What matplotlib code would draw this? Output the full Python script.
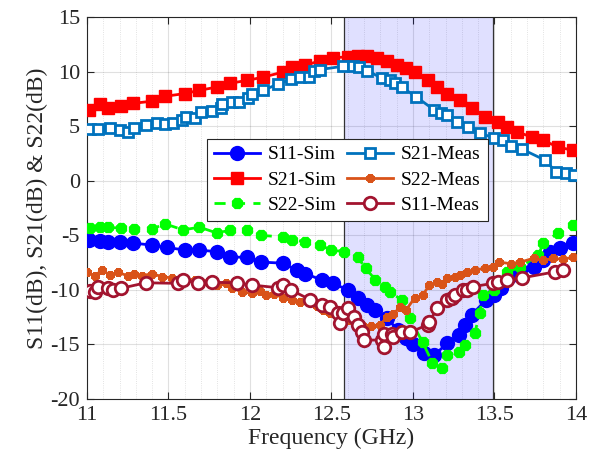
import matplotlib
matplotlib.use('Agg')
import matplotlib.pyplot as plt
from matplotlib.ticker import MultipleLocator

plt.rcParams['font.family'] = ['Liberation Serif', 'DejaVu Serif']
plt.rcParams['axes.unicode_minus'] = False
plt.rcParams['mathtext.fontset'] = 'stix'

# S21 simulated
f_s21_sim = [11.01, 11.08, 11.13, 11.21, 11.28, 11.40, 11.48, 11.60, 11.69, 11.80, 11.88, 11.98,
             12.08, 12.20, 12.26, 12.34, 12.43, 12.51, 12.60, 12.66, 12.72, 12.78, 12.84, 12.90,
             12.96, 13.01, 13.09, 13.15, 13.21, 13.29, 13.36, 13.44, 13.52, 13.58, 13.64, 13.73,
             13.80, 13.89, 13.98]
s21_sim = [6.5, 7.0, 6.65, 6.85, 7.1, 7.3, 7.75, 8.0, 8.3, 8.6, 8.95, 9.2,
           9.5, 9.96, 10.4, 10.6, 11.0, 11.3, 11.35, 11.4, 11.45, 11.3, 11.0, 10.6,
           10.3, 9.96, 9.2, 8.6, 8.0, 7.4, 6.65, 5.85, 5.4, 4.9, 4.5, 4.0,
           3.7, 3.1, 2.8]

# S21 measured
f_s21_meas = [11.02, 11.07, 11.14, 11.20, 11.25, 11.29, 11.36, 11.43, 11.48, 11.53, 11.58, 11.61,
              11.66, 11.70, 11.77, 11.82, 11.83, 11.89, 11.93, 11.99, 12.01, 12.08, 12.17, 12.25,
              12.31, 12.36, 12.39, 12.43, 12.57, 12.63, 12.67, 12.72, 12.81, 12.86, 12.89, 12.93,
              13.02, 13.13, 13.17, 13.21, 13.27, 13.34, 13.41, 13.50, 13.55, 13.60, 13.67, 13.81,
              13.88, 13.94, 13.99]
s21_meas = [4.74, 4.74, 4.8, 4.65, 4.5, 4.8, 5.1, 5.3, 5.2, 5.3, 5.6, 5.85,
            5.75, 6.3, 6.4, 6.65, 7.0, 7.2, 7.2, 7.6, 8.0, 8.3, 8.85, 9.3,
            9.5, 9.5, 10.1, 10.2, 10.5, 10.5, 10.4, 10.1, 9.4, 9.2, 8.95, 8.6,
            7.7, 6.5, 6.2, 6.0, 5.4, 4.9, 4.4, 3.9, 3.7, 3.2, 2.9, 1.9,
            0.8, 0.7, 0.5]

# S11 simulated
f_s11_sim = [11.01, 11.08, 11.13, 11.20, 11.28, 11.40, 11.49, 11.60, 11.69, 11.80, 11.88, 11.98,
             12.07, 12.20, 12.29, 12.34, 12.44, 12.51, 12.60, 12.66, 12.72, 12.77, 12.84, 12.91,
             12.96, 13.00, 13.07, 13.13, 13.21, 13.28, 13.32, 13.36, 13.45, 13.50, 13.54, 13.59,
             13.66, 13.74, 13.80, 13.84, 13.90, 13.98]
s11_sim = [-5.4, -5.5, -5.6, -5.6, -5.7, -5.9, -6.1, -6.35, -6.35, -6.5, -7.0, -7.0,
           -7.45, -7.55, -8.2, -8.5, -9.1, -9.4, -10.0, -10.7, -11.4, -11.85, -12.6, -13.7,
           -14.4, -15.0, -15.8, -16.0, -14.9, -14.1, -13.2, -12.3, -10.9, -10.5, -9.8, -8.8,
           -8.2, -7.9, -7.3, -6.5, -6.2, -5.7]

# S22 simulated
f_s22_sim = [11.02, 11.08, 11.13, 11.21, 11.29, 11.40, 11.48, 11.59, 11.69, 11.80, 11.88, 11.98,
             12.07, 12.20, 12.26, 12.34, 12.43, 12.50, 12.58, 12.66, 12.71, 12.77, 12.83, 12.86,
             12.93, 12.98, 13.06, 13.12, 13.18, 13.21, 13.28, 13.32, 13.38, 13.41, 13.43, 13.50,
             13.58, 13.66, 13.77, 13.80, 13.89, 13.98]
s22_sim = [-4.35, -4.25, -4.25, -4.35, -4.4, -4.4, -3.95, -4.5, -4.25, -4.8, -4.5, -4.5,
           -5.0, -5.15, -5.4, -5.6, -5.9, -6.35, -6.5, -7.0, -8.0, -9.1, -9.7, -10.2,
           -10.9, -12.6, -14.8, -16.7, -17.2, -16.0, -15.7, -15.05, -13.95, -12.1, -10.5, -10.0,
           -8.35, -7.9, -6.8, -5.7, -4.8, -4.05]

# S22 measured
f_s22_meas = [11.00, 11.05, 11.09, 11.14, 11.19, 11.25, 11.29, 11.34, 11.40, 11.46, 11.52, 11.59,
              11.66, 11.74, 11.80, 11.85, 11.89, 11.95, 12.01, 12.06, 12.10, 12.15, 12.20, 12.26,
              12.31, 12.36, 12.41, 12.45, 12.49, 12.52, 12.55, 12.58, 12.61, 12.66, 12.69, 12.74,
              12.80, 12.84, 12.88, 12.92, 12.96, 13.01, 13.06, 13.10, 13.15, 13.18, 13.21,
              13.26, 13.29, 13.33, 13.38, 13.44, 13.49, 13.53, 13.60, 13.66, 13.74, 13.80, 13.86,
              13.92, 13.98]
s22_meas = [-8.4, -8.7, -8.2, -8.6, -8.4, -8.7, -8.5, -8.7, -8.5, -8.8, -8.9, -9.2,
            -9.1, -9.3, -9.55, -9.4, -9.8, -10.2, -10.3, -10.1, -10.5, -10.4, -10.7, -10.9,
            -11.1, -11.0, -11.5, -11.8, -12.1, -12.0, -12.5, -12.4, -12.8, -13.0, -13.2, -13.3,
            -13.2, -12.5, -12.2, -11.6, -11.8, -10.75, -10.5, -9.55, -9.3, -9.5, -8.9,
            -8.8, -8.6, -8.35, -8.2, -8.0, -7.9, -7.45, -7.6, -7.45, -7.1, -7.3, -7.1,
            -7.2, -7.0]

# S11 measured
f_s11_meas = [11.02, 11.05, 11.07, 11.13, 11.16, 11.21, 11.36, 11.56, 11.59, 11.68, 11.77, 11.92,
              12.01, 12.17, 12.20, 12.25, 12.37, 12.44, 12.49, 12.54, 12.55, 12.57, 12.60, 12.64,
              12.66, 12.69, 12.70, 12.81, 12.82, 12.82, 12.87, 12.88, 12.93, 12.98, 13.09, 13.10,
              13.15, 13.21, 13.24, 13.26, 13.31, 13.33, 13.37, 13.49, 13.52, 13.58, 13.67, 13.87,
              13.92]
s11_meas = [-10.1, -10.2, -9.7, -9.85, -10.0, -9.85, -9.35, -9.4, -9.1, -9.35, -9.3, -9.35,
            -9.55, -9.8, -9.55, -10.0, -10.9, -11.4, -11.6, -12.1, -13.0, -12.1, -11.7, -12.5,
            -13.2, -13.9, -14.6, -14.6, -15.2, -14.0, -14.0, -14.3, -13.9, -13.9, -13.2, -12.9,
            -11.7, -10.9, -10.75, -10.5, -10.0, -10.0, -9.7, -9.4, -9.3, -9.1, -8.9, -8.35,
            -8.2]

band = (12.58, 13.49)

fig, ax = plt.subplots(figsize=(5.98, 4.65), dpi=100)
fig.subplots_adjust(left=0.1455, right=0.963, top=0.963, bottom=0.142)

ax.axvspan(band[0], band[1], facecolor=(0.0, 0.0, 1.0), alpha=0.12, zorder=1)
ax.axvline(band[0], color='#333333', lw=0.9, zorder=1.5)
ax.axvline(band[1], color='#333333', lw=0.9, zorder=1.5)

lw = 2.0
ax.plot(f_s11_sim, s11_sim, '-o', color='blue', lw=lw, ms=10, label='S11-Sim', zorder=3)
ax.plot(f_s21_sim, s21_sim, '-s', color='red', lw=lw, ms=9, label='S21-Sim', zorder=3)
ax.plot(f_s22_sim, s22_sim, '--', color='#00ff00', lw=lw, marker=(8, 2, 0), ms=8, mew=3.5,
        dashes=(4, 3), label='S22-Sim', zorder=3)
ax.plot(f_s21_meas, s21_meas, '-s', color='#0072BD', lw=lw, ms=7, mfc='white', mew=2,
        label='S21-Meas', zorder=3)
ax.plot(f_s22_meas, s22_meas, '-', color='#D95319', lw=lw, marker=(8, 2, 0), ms=6, mew=2.5,
        label='S22-Meas', zorder=3)
ax.plot(f_s11_meas, s11_meas, '-o', color='#A2142F', lw=lw, ms=9, mfc='white', mew=2,
        label='S11-Meas', zorder=3)

ax.set_xlim(11, 14)
ax.set_ylim(-20, 15)
ax.xaxis.set_minor_locator(MultipleLocator(0.1))
ax.yaxis.set_major_locator(MultipleLocator(5))
ax.set_xticks([11, 11.5, 12, 12.5, 13, 13.5, 14])
ax.set_xticklabels(['11', '11.5', '12', '12.5', '13', '13.5', '14'])

ax.grid(which='major', color='#000000', alpha=0.12, lw=0.8)
ax.grid(which='minor', axis='x', color='#000000', alpha=0.15, lw=0.6, ls=':')
ax.set_axisbelow(True)

ax.tick_params(which='both', direction='in', top=True, right=True, colors='#262626',
               labelsize=16, pad=5)
ax.tick_params(which='major', length=5)
ax.tick_params(which='minor', length=0)
for sp in ax.spines.values():
    sp.set_color('#262626')
    sp.set_linewidth(0.8)

ax.set_xlabel('Frequency (GHz)', fontsize=17, color='#262626', labelpad=2)
ax.set_ylabel('S11(dB), S21(dB) & S22(dB)', fontsize=17, color='#262626', labelpad=2)

leg = ax.legend(ncol=2, loc='upper left', bbox_to_anchor=(0.245, 0.681), fontsize=14,
                frameon=True, fancybox=False, edgecolor='#262626', framealpha=1,
                handlelength=2.4, columnspacing=0.5, handletextpad=0.4, borderpad=0.35,
                labelspacing=0.4, borderaxespad=0)
leg.get_frame().set_linewidth(0.8)
leg.set_zorder(5)

fig.savefig('out.png', dpi=100)
